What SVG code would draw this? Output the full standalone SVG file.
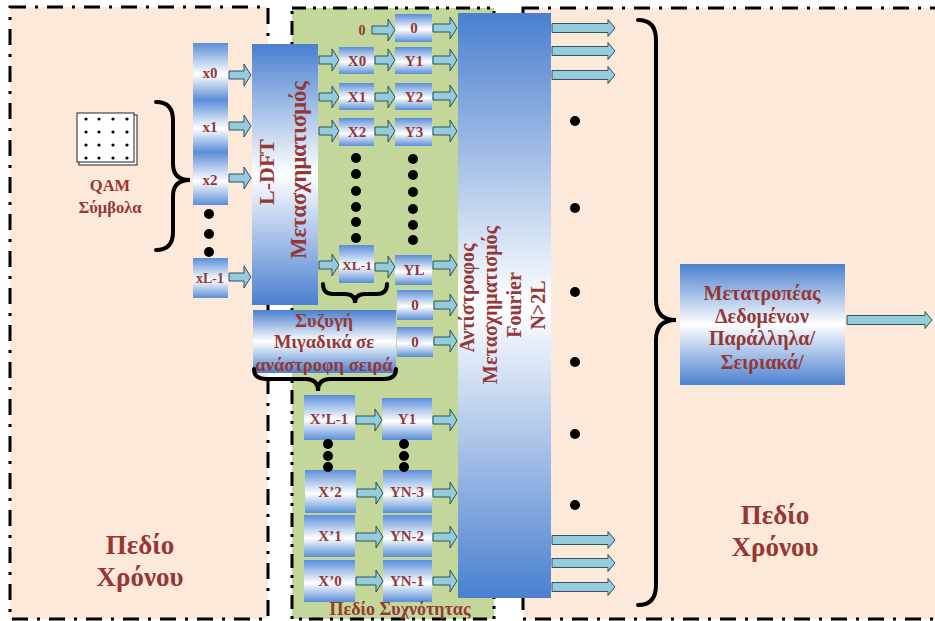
<svg xmlns="http://www.w3.org/2000/svg" width="935" height="621" viewBox="0 0 935 621">
<defs>
<linearGradient id="gb" x1="0" y1="0" x2="0" y2="1">
<stop offset="0" stop-color="#4a80cf"/><stop offset="0.5" stop-color="#ffffff"/><stop offset="1" stop-color="#4a80cf"/>
</linearGradient>
<linearGradient id="gs" x1="0" y1="0" x2="0" y2="1">
<stop offset="0" stop-color="#5a8ed8"/><stop offset="0.55" stop-color="#ffffff"/><stop offset="1" stop-color="#5a8ed8"/>
</linearGradient>
<style>
.t{font-family:"Liberation Serif","DejaVu Serif",serif;font-weight:700;fill:#953735;text-anchor:middle}
.s{font-size:15px}
.m{font-size:18.5px}
.l{font-size:27px}
.arr{fill:#93cddd;stroke:#24404f;stroke-width:0.9}
.br{fill:none;stroke:#000;stroke-width:4;stroke-linecap:round}
.dot{fill:#000}
.bx{fill:url(#gs)}
.bd{stroke:#000;stroke-width:3;fill:none}
</style>
</defs>
<rect width="935" height="621" fill="#ffffff"/>
<g id="regions">
<rect x="10" y="7" width="258" height="612" fill="#fde9d9"/>
<rect x="10" y="7" width="258" height="612" class="bd" stroke-dasharray="16 9 3 9"/>
<rect x="292" y="8" width="202" height="611" fill="#c4d79b"/>
<rect x="292" y="8" width="202" height="611" class="bd" stroke-dasharray="14 7 3 7 3 7"/>
<rect x="523" y="8" width="430" height="611" fill="#fde9d9"/>
<rect x="523" y="8" width="430" height="611" class="bd" stroke-dasharray="16 9 3 9"/>
</g>
<g id="qam">
<rect x="79" y="115" width="58" height="50" fill="#fff" stroke="#222" stroke-width="1"/>
<rect x="77" y="113" width="57" height="49" fill="#fff" stroke="#222" stroke-width="1"/>
<g class="dot">
<circle cx="86" cy="119" r="1.6"/><circle cx="99" cy="119" r="1.6"/><circle cx="113" cy="119" r="1.6"/><circle cx="127" cy="119" r="1.6"/>
<circle cx="86" cy="132" r="1.6"/><circle cx="99" cy="132" r="1.6"/><circle cx="113" cy="132" r="1.6"/><circle cx="127" cy="132" r="1.6"/>
<circle cx="86" cy="145" r="1.6"/><circle cx="99" cy="145" r="1.6"/><circle cx="113" cy="145" r="1.6"/><circle cx="127" cy="145" r="1.6"/>
<circle cx="86" cy="158" r="1.6"/><circle cx="99" cy="158" r="1.6"/><circle cx="113" cy="158" r="1.6"/><circle cx="127" cy="158" r="1.6"/>
</g>
<text class="t" x="110" y="191" style="font-size:16.5px">QAM</text>
<text class="t" x="110" y="213" style="font-size:16.5px">Σύμβολα</text>
</g>
<g id="input">
<rect class="bx" x="193" y="43" width="35" height="57"/>
<rect class="bx" x="193" y="100" width="35" height="52"/>
<rect class="bx" x="193" y="152" width="35" height="53"/>
<text class="t s" x="210" y="78">x0</text>
<text class="t s" x="210" y="132">x1</text>
<text class="t s" x="210" y="185">x2</text>
<circle class="dot" cx="209" cy="214" r="5"/><circle class="dot" cx="209" cy="234" r="5"/><circle class="dot" cx="209" cy="252" r="5"/>
</g>
<g id="xL1">
<rect class="bx" x="193" y="258" width="35" height="40"/>
<text class="t s" x="210" y="283" style="font-size:14px">xL-1</text>
</g>
<g id="ldft">
<rect x="252" y="44" width="66" height="261" fill="url(#gb)"/>
<text class="t" transform="translate(266,172) rotate(-90)" style="font-size:22px" dominant-baseline="central">L-DFT</text>
<text class="t" transform="translate(298,170) rotate(-90)" style="font-size:22.5px" dominant-baseline="central">Μετασχηματισμός</text>
</g>
<g id="conj">
<rect x="253" y="310" width="143" height="63" fill="url(#gb)"/>
<text class="t m" x="324" y="327">Συζυγή</text>
<text class="t m" x="324" y="348">Μιγαδικά σε</text>
<text class="t m" x="324" y="371">ανάστροφη σειρά</text>
</g>
<g id="xcol">
<rect class="bx" x="339" y="47" width="35" height="27"/><text class="t s" x="357" y="66">X0</text>
<rect class="bx" x="339" y="83" width="35" height="27"/><text class="t s" x="357" y="102">X1</text>
<rect class="bx" x="339" y="118" width="35" height="28"/><text class="t s" x="357" y="137">X2</text>
<rect class="bx" x="339" y="245" width="35" height="38"/><text class="t s" x="357" y="270" style="font-size:13.5px">XL-1</text>
<circle class="dot" cx="356" cy="158" r="5"/><circle class="dot" cx="356" cy="174" r="5"/><circle class="dot" cx="356" cy="191" r="5"/><circle class="dot" cx="356" cy="207" r="5"/><circle class="dot" cx="356" cy="222" r="5"/><circle class="dot" cx="356" cy="238" r="5"/>
</g>
<g id="ycol">
<text class="t" x="362" y="35" style="font-size:14px">0</text>
<rect class="bx" x="395" y="14" width="37" height="28"/><text class="t s" x="414" y="33">0</text>
<rect class="bx" x="395" y="47" width="37" height="27"/><text class="t s" x="414" y="66">Y1</text>
<rect class="bx" x="395" y="83" width="37" height="27"/><text class="t s" x="414" y="102">Y2</text>
<rect class="bx" x="395" y="118" width="37" height="28"/><text class="t s" x="414" y="137">Y3</text>
<rect class="bx" x="395" y="255" width="37" height="30"/><text class="t s" x="414" y="275">YL</text>
<rect class="bx" x="397" y="290" width="36" height="30"/><text class="t s" x="415" y="310">0</text>
<rect class="bx" x="397" y="327" width="36" height="30"/><text class="t s" x="415" y="347">0</text>
<circle class="dot" cx="413" cy="159" r="5"/><circle class="dot" cx="413" cy="175" r="5"/><circle class="dot" cx="413" cy="192" r="5"/><circle class="dot" cx="413" cy="209" r="5"/><circle class="dot" cx="413" cy="225" r="5"/><circle class="dot" cx="413" cy="240" r="5"/>
</g>
<g id="lower">
<rect class="bx" x="304" y="395" width="51" height="45"/><text class="t s" x="329" y="424">X’L-1</text>
<rect class="bx" x="382" y="398" width="50" height="42"/><text class="t s" x="407" y="424">Y1</text>
<rect class="bx" x="305" y="470" width="51" height="43"/><text class="t s" x="330" y="497">X’2</text>
<rect class="bx" x="383" y="470" width="49" height="43"/><text class="t s" x="407" y="497">YN-3</text>
<rect class="bx" x="304" y="515" width="51" height="42"/><text class="t s" x="330" y="541">X’1</text>
<rect class="bx" x="383" y="515" width="49" height="42"/><text class="t s" x="407" y="541">YN-2</text>
<rect class="bx" x="304" y="560" width="51" height="42"/><text class="t s" x="330" y="586">X’0</text>
<rect class="bx" x="383" y="560" width="49" height="42"/><text class="t s" x="407" y="586">YN-1</text>
<circle class="dot" cx="328" cy="444" r="5"/><circle class="dot" cx="328" cy="456" r="5"/><circle class="dot" cx="328" cy="467" r="5"/>
<circle class="dot" cx="404" cy="444" r="5"/><circle class="dot" cx="404" cy="456" r="5"/><circle class="dot" cx="404" cy="467" r="5"/>
<text class="t" x="400" y="615" style="font-size:18px">Πεδίο Συχνότητας</text>
</g>
<g id="ifft">
<rect x="458" y="13" width="93" height="585" fill="url(#gb)"/>
<text class="t" transform="translate(467,298) rotate(-90)" style="font-size:20px" dominant-baseline="central">Αντίστροφος</text>
<text class="t" transform="translate(490,305) rotate(-90)" style="font-size:20px" dominant-baseline="central">Μετασχηματισμός</text>
<text class="t" transform="translate(514,305) rotate(-90)" style="font-size:20px" dominant-baseline="central">Fourier</text>
<text class="t" transform="translate(538,305) rotate(-90)" style="font-size:20px" dominant-baseline="central">N&gt;2L</text>
</g>
<g id="outdots">
<circle class="dot" cx="575" cy="121" r="5"/><circle class="dot" cx="575" cy="208" r="5"/><circle class="dot" cx="575" cy="292" r="5"/><circle class="dot" cx="575" cy="362" r="5"/><circle class="dot" cx="575" cy="434" r="5"/><circle class="dot" cx="575" cy="505" r="5"/>
</g>
<g id="converter">
<rect x="680" y="264" width="165" height="121" fill="url(#gb)"/>
<text class="t" x="762" y="300" style="font-size:20px">Μετατροπέας</text>
<text class="t" x="762" y="323" style="font-size:20px">Δεδομένων</text>
<text class="t" x="762" y="345" style="font-size:20px">Παράλληλα/</text>
<text class="t" x="762" y="369" style="font-size:20px">Σειριακά/</text>
</g>
<g id="labels">
<text class="t l" x="140" y="554">Πεδίο</text>
<text class="t l" x="140" y="586">Χρόνου</text>
<text class="t l" x="775" y="524">Πεδίο</text>
<text class="t l" x="775" y="556">Χρόνου</text>
</g>
<g id="braces">
<path class="br" d="M156,102 Q173,102 173,120 L173,164 Q173,180 190,180 Q173,180 173,196 L173,232 Q173,250 156,250"/>
<path class="br" d="M638,20 Q656,20 656,40 L656,300 Q656,320 676,320 Q656,320 656,340 L656,585 Q656,605 638,605"/>
<path class="br" d="M323,284 Q323,294 333,294 L345,294 Q355,294 355,303 Q355,294 365,294 L377,294 Q387,294 387,284"/>
<path class="br" d="M254,369 Q254,379 266,379 L306,379 Q318,379 318,391 Q318,379 330,379 L384,379 Q396,379 396,369"/>
</g>
<g id="connectors">
<path class="arr" d="M229,71h15v-7l7,11l-7,11v-7h-15z"/>
<path class="arr" d="M229,122h15v-7l7,11l-7,11v-7h-15z"/>
<path class="arr" d="M229,174h15v-7l7,11l-7,11v-7h-15z"/>
<path class="arr" d="M229,273h15v-7l7,11l-7,11v-7h-15z"/>
<path class="arr" d="M319,56h13v-7l7,11l-7,11v-7h-13z"/>
<path class="arr" d="M319,93h13v-7l7,11l-7,11v-7h-13z"/>
<path class="arr" d="M319,127h13v-7l7,11l-7,11v-7h-13z"/>
<path class="arr" d="M319,261h13v-7l7,11l-7,11v-7h-13z"/>
<path class="arr" d="M372,26h16v-7l7,11l-7,11v-7h-16z"/>
<path class="arr" d="M375,56h13v-7l7,11l-7,11v-7h-13z"/>
<path class="arr" d="M375,93h13v-7l7,11l-7,11v-7h-13z"/>
<path class="arr" d="M375,127h13v-7l7,11l-7,11v-7h-13z"/>
<path class="arr" d="M375,263h13v-7l7,11l-7,11v-7h-13z"/>
<path class="arr" d="M433,24h17v-7l7,11l-7,11v-7h-17z"/>
<path class="arr" d="M433,56h17v-7l7,11l-7,11v-7h-17z"/>
<path class="arr" d="M433,92h17v-7l7,11l-7,11v-7h-17z"/>
<path class="arr" d="M433,127h17v-7l7,11l-7,11v-7h-17z"/>
<path class="arr" d="M433,261h17v-7l7,11l-7,11v-7h-17z"/>
<path class="arr" d="M434,301h16v-7l7,11l-7,11v-7h-16z"/>
<path class="arr" d="M434,337h16v-7l7,11l-7,11v-7h-16z"/>
<path class="arr" d="M356,416h19v-7l7,11l-7,11v-7h-19z"/>
<path class="arr" d="M433,416h17v-7l7,11l-7,11v-7h-17z"/>
<path class="arr" d="M357,489h19v-7l7,11l-7,11v-7h-19z"/>
<path class="arr" d="M433,489h17v-7l7,11l-7,11v-7h-17z"/>
<path class="arr" d="M356,533h20v-7l7,11l-7,11v-7h-20z"/>
<path class="arr" d="M433,533h17v-7l7,11l-7,11v-7h-17z"/>
<path class="arr" d="M356,577h20v-7l7,11l-7,11v-7h-20z"/>
<path class="arr" d="M433,577h17v-7l7,11l-7,11v-7h-17z"/>
<path class="arr" d="M552,23.5h56v-4l7,8.5l-7,8.5v-4h-56z"/>
<path class="arr" d="M552,46.5h56v-4l7,8.5l-7,8.5v-4h-56z"/>
<path class="arr" d="M552,70.5h56v-4l7,8.5l-7,8.5v-4h-56z"/>
<path class="arr" d="M552,535.5h56v-4l7,8.5l-7,8.5v-4h-56z"/>
<path class="arr" d="M552,558.5h56v-4l7,8.5l-7,8.5v-4h-56z"/>
<path class="arr" d="M552,582.5h56v-4l7,8.5l-7,8.5v-4h-56z"/>
<path class="arr" d="M847,315.5h78v-4l7,8.5l-7,8.5v-4h-78z"/>
</g>
</svg>
